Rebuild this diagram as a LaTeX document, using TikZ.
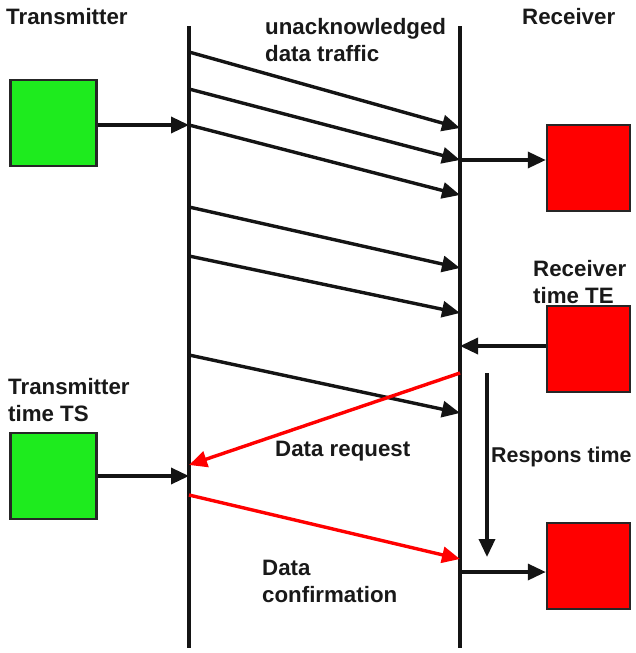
\documentclass[tikz,border=0pt]{standalone}
\usepackage{fontspec}
\setmainfont{Liberation Sans}
\usetikzlibrary{arrows.meta}
\definecolor{boxgreen}{HTML}{1EEB1E}
\definecolor{boxred}{HTML}{FF0000}
\begin{document}
\begin{tikzpicture}[x=1pt,y=-1pt,
  lbl/.style={font=\bfseries\fontsize{22.3}{27}\selectfont, anchor=west, align=left, inner sep=0pt, text=black!90},
  gbox/.style={draw=black!85, line width=2.4pt, fill=boxgreen, minimum width=86pt, minimum height=86pt, inner sep=0pt},
  rbox/.style={draw=black!85, line width=2.4pt, fill=boxred, minimum width=83pt, minimum height=86pt, inner sep=0pt},
  tline/.style={line width=3.4pt, black!92},
  msg/.style={line width=3.4pt, black!92, -{Triangle[length=18pt,width=16pt]}},
  rmsg/.style={line width=3.4pt, boxred, -{Triangle[length=18pt,width=16pt]}},
]
\useasboundingbox (0,0) rectangle (636,653);

% time lines of transmitter and receiver
\coordinate (Ltop) at (189,26);  \coordinate (Lbot) at (189,648);
\coordinate (Rtop) at (460,26);  \coordinate (Rbot) at (460,648);
\draw[tline] (Ltop) -- (Lbot);
\draw[tline] (Rtop) -- (Rbot);

% headings and labels
\node[lbl] (tx)   at (6,17)    {Transmitter};
\node[lbl] (rx)   at (522,17)  {Receiver};
\node[lbl] (unack) at (265,40) {unacknowledged\\data traffic};
\node[lbl] (rte)  at (533,282) {Receiver\\time TE};
\node[lbl] (tts)  at (8,400)   {Transmitter\\time TS};
\node[lbl] (dreq) at (275,451) {Data request};
\node[lbl, font=\bfseries\fontsize{21.4}{27}\selectfont] (resp) at (491,457) {Respons time};
\node[lbl] (dconf) at (262,581) {Data\\confirmation};

% stations
\node[gbox] (g1) at (53.5,123) {};
\node[gbox] (g2) at (53.5,476) {};
\node[rbox] (r1) at (588.5,168) {};
\node[rbox] (r2) at (588.5,349) {};
\node[rbox] (r3) at (588.5,566) {};

% points on the transmitter line
\coordinate (L1) at (189,52);
\coordinate (L2) at (189,89);
\coordinate (L3) at (189,125);
\coordinate (L4) at (189,207);
\coordinate (L5) at (189,256);
\coordinate (L6) at (189,355);
\coordinate (Lq) at (189,465);
\coordinate (Lts) at (189,476);
\coordinate (Lc) at (189,495);

% points on the receiver line
\coordinate (R1) at (460,128);
\coordinate (R2) at (460,160);
\coordinate (R3) at (460,195);
\coordinate (R4) at (460,268);
\coordinate (R5) at (460,313);
\coordinate (Rte) at (460,346);
\coordinate (Rq) at (460,373);
\coordinate (R6) at (460,413);
\coordinate (Rc) at (460,559);
\coordinate (Rout) at (460,572);

% response time span
\coordinate (Ttop) at (487,373);
\coordinate (Tbot) at (487,557);

% unacknowledged data traffic
\draw[msg] (L1) -- (R1);
\draw[msg] (L2) -- (R2);
\draw[msg] (L3) -- (R3);
\draw[msg] (L4) -- (R4);
\draw[msg] (L5) -- (R5);
\draw[msg] (L6) -- (R6);

% station connections
\draw[msg] (g1.east |- L3) -- (L3);
\draw[msg] (g2.east |- Lts) -- (Lts);
\draw[msg] (R2) -- (r1.west |- R2);
\draw[msg] (r2.west |- Rte) -- (Rte);
\draw[msg] (Rout) -- (r3.west |- Rout);

% request and confirmation
\draw[rmsg] (Rq) -- (Lq);
\draw[rmsg] (Lc) -- (Rc);

% response time
\draw[msg] (Ttop) -- (Tbot);
\end{tikzpicture}
\end{document}
